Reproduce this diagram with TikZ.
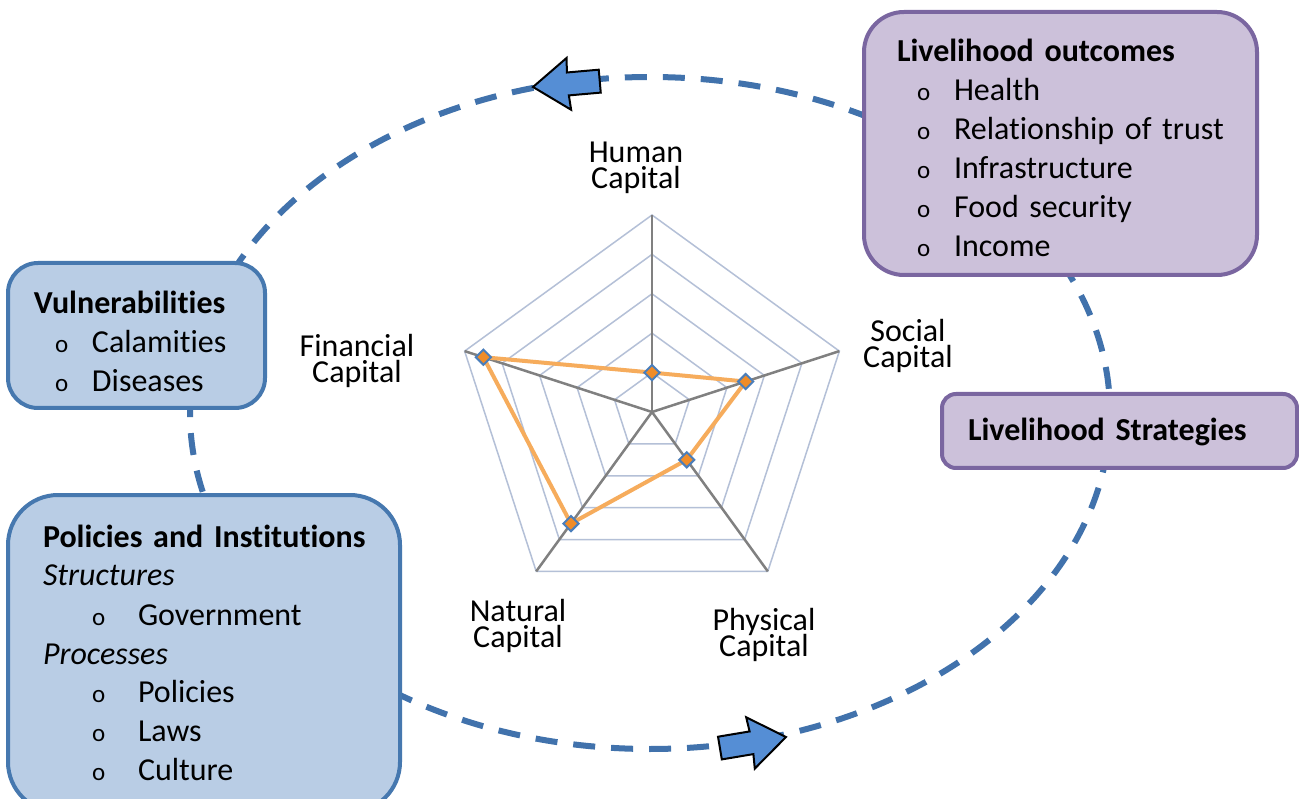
\documentclass[tikz,border=0pt]{standalone}
\usepackage{fontspec}
\setmainfont[Ligatures=NoCommon]{Carlito}
\usepackage{tikz}
\usetikzlibrary{shapes.geometric}

\definecolor{boxblue}{RGB}{185,205,229}
\definecolor{edgeblue}{RGB}{70,120,175}
\definecolor{boxpurple}{RGB}{204,193,218}
\definecolor{edgepurple}{RGB}{122,102,160}
\definecolor{cycleblue}{RGB}{65,114,172}
\definecolor{arrowblue}{RGB}{85,142,213}
\definecolor{ringgray}{RGB}{180,192,215}
\definecolor{spokegray}{RGB}{128,128,128}
\definecolor{dataorange}{RGB}{246,172,92}
\definecolor{markorange}{RGB}{240,140,40}
\definecolor{markblue}{RGB}{74,126,187}

% bullet line: indent, text start, item
\newcommand{\itm}[3]{\hspace*{#1pt}\makebox[\dimexpr#2pt-#1pt\relax][l]{\fontsize{25}{25}\selectfont o}#3}
\newcommand{\tightfont}{\fontsize{32}{26}\selectfont\lineskiplimit=-30pt\relax}

\begin{document}
\begin{tikzpicture}[x=1pt,y=-1pt]
  \tikzstyle{bluebox}=[draw=edgeblue,fill=boxblue,line width=4pt,outer sep=0pt,inner ysep=0pt,anchor=north west,align=left,font=\fontsize{32}{39}\selectfont]
  \tikzstyle{purplebox}=[bluebox,draw=edgepurple,fill=boxpurple]
  \tikzstyle{cycleline}=[draw=cycleblue,line width=6pt,dash pattern=on 22pt off 16pt]
  \tikzstyle{blockarrow}=[draw=black,fill=arrowblue,line width=2pt,line join=miter]
  \tikzstyle{gridring}=[draw=ringgray,line width=1.5pt]
  \tikzstyle{spoke}=[draw=spokegray,line width=2.5pt]
  \tikzstyle{dataline}=[draw=dataorange,line width=4pt,line join=round]
  \tikzstyle{datamark}=[diamond,draw=markblue,fill=markorange,line width=2pt,inner sep=0pt,minimum size=16pt]
  \tikzstyle{caplabel}=[align=center,inner sep=0pt,font=\tightfont]

  \path[fill=white] (0,0) rectangle (1299,799);
  \useasboundingbox (0,0) rectangle (1299,799);

  % dashed cycle behind everything
  \coordinate (hub) at (650,413);
  \draw[cycleline] (hub) ellipse [x radius=460,y radius=336];

  % radar of the five capitals
  \begin{scope}[shift={(652,412)},yscale=-1]
    \foreach \r in {39.4,78.8,118.2,157.6,197}
      \draw[gridring] (90:\r) -- (18:\r) -- (-54:\r) -- (-126:\r) -- (162:\r) -- cycle;
    \foreach \a in {90,18,-54,-126,162}
      \draw[spoke] (0,0) -- (\a:197);
    \draw[dataline] (90:39.4) -- (18:98.5) -- (-54:59.1) -- (-126:137.9) -- (162:177.3) -- cycle;
    \foreach \a/\r/\n in {90/39.4/human,18/98.5/social,-54/59.1/physical,-126/137.9/natural,162/177.3/financial}
      \node[datamark] (\n) at (\a:\r) {};
  \end{scope}

  \node[caplabel] (humanlbl)     at (636,168) {Human\\Capital};
  \node[caplabel] (sociallbl)    at (908,346) {Social\\Capital};
  \node[caplabel] (financiallbl) at (357,361) {Financial\\Capital};
  \node[caplabel] (naturallbl)   at (518,626) {Natural\\Capital};
  \node[caplabel] (physicallbl)  at (764,635) {Physical\\Capital};

  % boxes
  \node[purplebox,text width=327pt,inner xsep=33pt,rounded corners=40pt] (outcomes) at (864,12)
    {\rule{0pt}{50pt}\textbf{Livelihood outcomes}\\
     \itm{20}{57}{Health}\\
     \itm{20}{57}{Relationship of trust}\\
     \itm{20}{57}{Infrastructure}\\
     \itm{20}{57}{Food security}\\
     \itm{20}{57}{Income}\rule[-18pt]{0pt}{18pt}};
  \node[purplebox,text width=303pt,inner xsep=26pt,rounded corners=14pt] (strategies) at (942,394)
    {\rule[-27pt]{0pt}{74pt}\textbf{Livelihood Strategies}};
  \node[bluebox,text width=205pt,inner xsep=26pt,rounded corners=30pt] (vulner) at (8,263)
    {\rule{0pt}{51pt}\textbf{Vulnerabilities}\\
     \itm{21}{58}{Calamities}\\
     \itm{21}{58}{Diseases}\rule[-16pt]{0pt}{16pt}};
  \node[bluebox,text width=322pt,inner xsep=35pt,rounded corners=50pt] (policies) at (8,495)
    {\rule{0pt}{52pt}\mbox{\textbf{Policies and Institutions}}\\
     \textit{Structures}\\
     \itm{49}{95}{Government}\\
     \textit{Processes}\\
     \itm{49}{95}{Policies}\\
     \itm{49}{95}{Laws}\\
     \itm{49}{95}{Culture}\rule[-31pt]{0pt}{31pt}};

  % block arrows on the cycle
  \foreach \x/\y/\a in {533/87/185,786/737/9.5}
    \draw[blockarrow,shift={(\x,\y)},rotate=\a] (0,0) -- (-36,26) -- (-35,11.5) -- (-67,11.5)
      -- (-67,-11.5) -- (-35,-11.5) -- (-36,-26) -- cycle;
\end{tikzpicture}
\end{document}
